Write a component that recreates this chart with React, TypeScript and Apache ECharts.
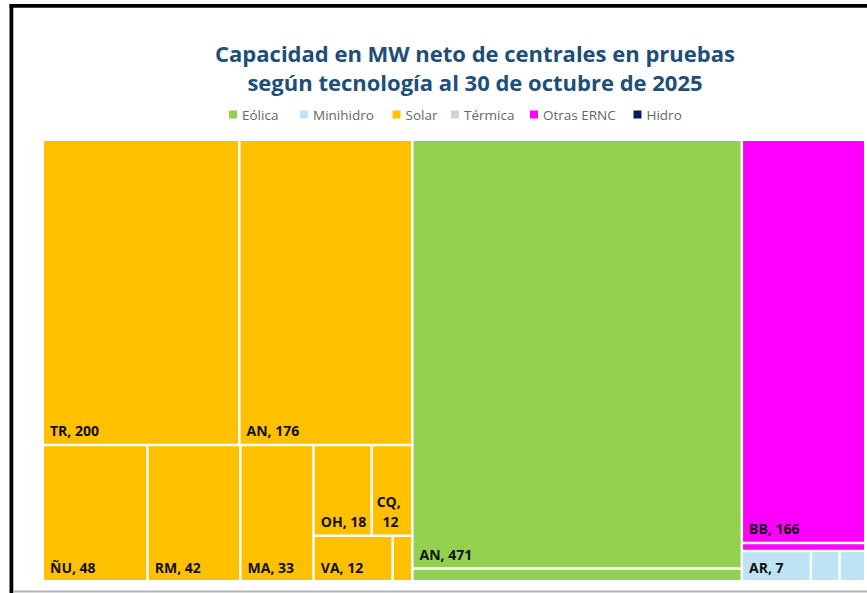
import React, { useEffect, useRef } from 'react';
import * as echarts from 'echarts';

// ---- Data ----
const titleLines = [
  'Capacidad en MW neto de centrales en pruebas',
  'según tecnología al 30 de octubre de 2025',
];
const techNames = ['Eólica', 'Minihidro', 'Solar', 'Térmica', 'Otras ERNC', 'Hidro'];
const techColors = ['#92D050', '#BDE3F5', '#FFC000', '#D3D3D3', '#FF00FF', '#002060'];

const eolicaRegions = ['AN', ''];
const eolicaValues = [471, 14];
const minihidroRegions = ['AR', '', ''];
const minihidroValues = [7, 2.9, 2.6];
const solarRegions = ['TR', 'AN', 'ÑU', 'RM', 'MA', 'OH', 'CQ', 'VA', ''];
const solarValues = [200, 176, 47.6, 42.2, 33.3, 17.6, 12.3, 12, 3];
const termicaRegions: string[] = [];
const termicaValues: number[] = [];
const otrasRegions = ['BB', ''];
const otrasValues = [166, 3.2];
const hidroRegions: string[] = [];
const hidroValues: number[] = [];

const techRegions = [eolicaRegions, minihidroRegions, solarRegions, termicaRegions, otrasRegions, hidroRegions];
const techValues = [eolicaValues, minihidroValues, solarValues, termicaValues, otrasValues, hidroValues];

// regions whose label wraps and is centred in the reference
const wrappedLabels = ['CQ'];

export default function App() {
  const ref = useRef<HTMLDivElement>(null);

  useEffect(() => {
    document.body.style.margin = '0';
    document.body.style.overflow = 'hidden';
    if (!ref.current) return;
    const chart = echarts.init(ref.current, null, { renderer: 'svg' });

    const treeData = techNames
      .map((tech, ti) => ({
        name: tech,
        itemStyle: { color: techColors[ti] },
        children: techRegions[ti].map((r, ri) => {
          const item: any = {
            name: r,
            value: techValues[ti][ri],
            itemStyle: { color: techColors[ti] },
          };
          if (!r) item.label = { show: false };
          else if (wrappedLabels.includes(r))
            item.label = {
              position: 'insideBottom',
              overflow: 'break',
              align: 'center',
              lineHeight: 20,
              distance: 0,
              padding: [5, 3, 3, 0],
            };
          return item;
        }),
      }))
      .filter((g) => g.children.length > 0);

    const legendSquareX = [229, 300, 392.5, 451, 530, 633.5];
    const legendChildren: any[] = [];
    techNames.forEach((n, i) => {
      legendChildren.push({
        type: 'rect',
        shape: { x: legendSquareX[i], y: 110.5, width: 8, height: 8 },
        style: { fill: techColors[i] },
      });
      legendChildren.push({
        type: 'text',
        x: legendSquareX[i] + 13,
        y: 115,
        style: {
          text: n,
          fill: '#666666',
          font: '13.5px "Open Sans"',
          textVerticalAlign: 'middle',
          verticalAlign: 'middle',
        },
      });
    });

    chart.setOption({
      animation: false,
      backgroundColor: '#ffffff',
      title: {
        text: titleLines.join('\n'),
        left: 475,
        top: 38,
        padding: 0,
        textAlign: 'center',
        textStyle: {
          fontFamily: 'Open Sans',
          fontWeight: 'bold',
          fontSize: 22,
          lineHeight: 29,
          color: '#1F4E79',
        },
      },
      graphic: [
        { type: 'rect', shape: { x: 9.5, y: 4, width: 858, height: 3.8 }, style: { fill: '#000' } },
        { type: 'rect', shape: { x: 9.5, y: 4, width: 3.8, height: 589 }, style: { fill: '#000' } },
        { type: 'rect', shape: { x: 13, y: 590.5, width: 854, height: 2 }, style: { fill: '#b4b4b4' } },
        { type: 'group', children: legendChildren },
      ],
      series: [
        {
          type: 'treemap',
          left: 44,
          top: 141,
          width: 820,
          height: 439,
          roam: false,
          nodeClick: false,
          breadcrumb: { show: false },
          squareRatio: 1.115,
          label: {
            show: true,
            position: 'insideBottomLeft',
            distance: 1,
            padding: [5, 2, 5, 5],
            color: '#111',
            fontFamily: 'Open Sans',
            fontWeight: 'bold',
            fontSize: 14,
            formatter: (p: any) => (p.name ? `${p.name}, ${Math.round(p.value)}` : ''),
          },
          upperLabel: { show: false },
          levels: [
            { itemStyle: { borderWidth: 0, gapWidth: 2.5, borderColor: '#fff' } },
            { itemStyle: { borderWidth: 0, gapWidth: 2.5, borderColor: '#fff' } },
            { itemStyle: { borderWidth: 0 } },
          ],
          data: treeData,
        },
      ],
    });

    return () => chart.dispose();
  }, []);

  return <div ref={ref} style={{ width: 867, height: 593 }} />;
}
